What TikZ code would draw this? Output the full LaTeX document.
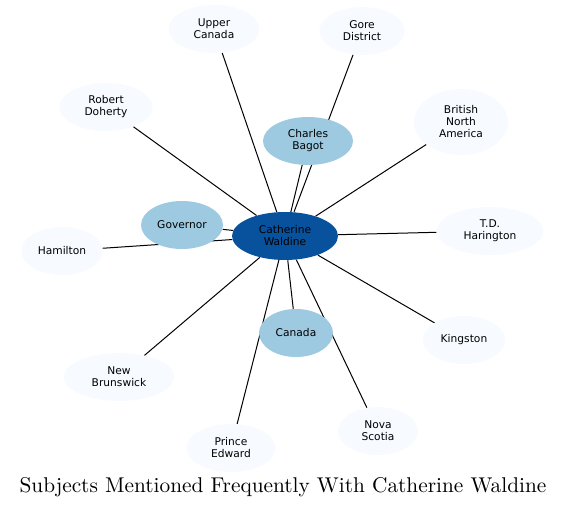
\documentclass[tikz,border=0pt]{standalone}
\usepackage{fontspec}
\usetikzlibrary{shapes.geometric, backgrounds}
\newfontfamily\labelfont{DejaVu Sans}
\newfontfamily\titlefont{lmroman10-regular.otf}
\definecolor{hubblue}{HTML}{08519C}
\definecolor{midblue}{HTML}{9ECAE1}
\definecolor{paleblue}{HTML}{F7FBFF}

\begin{document}
\begin{tikzpicture}[x=0.75pt, y=-0.75pt,
		subject/.style={ellipse, fill=paleblue, inner sep=0pt, minimum height=36pt, align=center, font=\labelfont\fontsize{8}{9}\selectfont},
		related/.style={subject, fill=midblue},
		hub/.style={subject, fill=hubblue},
		link/.style={draw=black, line width=0.75pt}]
			\useasboundingbox (0,0) rectangle (567,509);
			\node[hub, minimum width=79.5pt] (cw) at (285,236) {Catherine\\Waldine};
			\node[subject, minimum width=68pt] (uc) at (214,29) {Upper\\Canada};
			\node[subject, minimum width=64pt] (gd) at (362,31) {Gore\\District};
			\node[subject, minimum width=70pt] (rd) at (106,107) {Robert\\Doherty};
			\node[related, minimum width=67.5pt] (cb) at (308,141) {Charles\\Bagot};
			\node[subject, minimum width=70.5pt, minimum height=49.5pt] (bna) at (461,122) {British\\North\\America};
			\node[related, minimum width=61.5pt] (gov) at (182,225) {Governor};
			\node[subject, minimum width=61pt] (ham) at (62,251) {Hamilton};
			\node[subject, minimum width=80pt] (tdh) at (490,231) {T.D.\\Harington};
			\node[related, minimum width=55.5pt] (can) at (296,333) {Canada};
			\node[subject, minimum width=62pt] (kin) at (464,340) {Kingston};
			\node[subject, minimum width=83pt] (nb) at (119,377) {New\\Brunswick};
			\node[subject, minimum width=60pt] (ns) at (378,431) {Nova\\Scotia};
			\node[subject, minimum width=67pt] (pe) at (231,448) {Prince\\Edward};
			\node[font=\titlefont\fontsize{16}{19}\selectfont] (title) at (283,487) {Subjects Mentioned Frequently With Catherine Waldine};
			% edges go under the node fills
			\begin{scope}[on background layer]
				\foreach \n in {uc, gd, rd, cb, bna, gov, ham, tdh, can, kin, nb, ns, pe}
					\draw[link] (cw) -- (\n);
			\end{scope}
		\end{tikzpicture}
\end{document}
